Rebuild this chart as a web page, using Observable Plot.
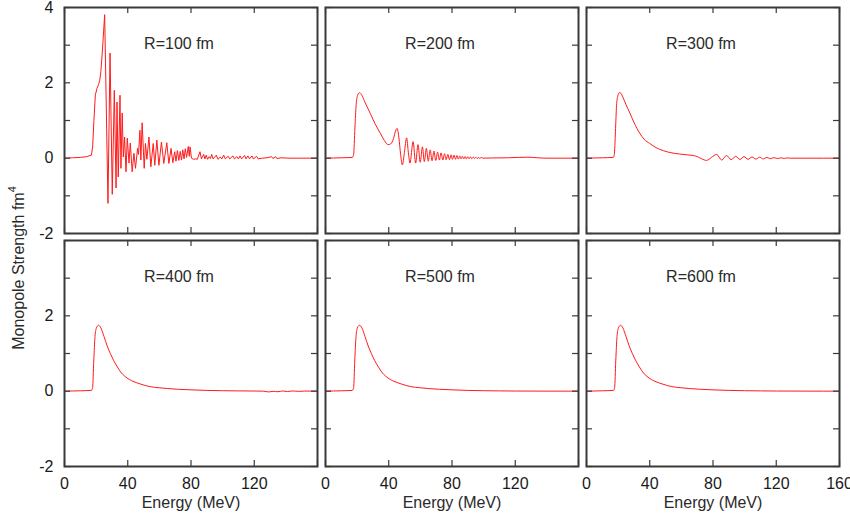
<!DOCTYPE html>
<html><head><meta charset="utf-8">
<script src="https://cdn.jsdelivr.net/npm/d3@7"></script>
<script src="https://cdn.jsdelivr.net/npm/@observablehq/plot@0.6"></script>
<style>
body{margin:0;background:#fff;font-family:"Liberation Sans",Arial,Helvetica,sans-serif;}
#chart{position:relative;width:850px;height:522px;overflow:hidden;background:#fff;}
#chart svg{position:absolute;}
</style></head>
<body><div id="chart"></div>
<script>
// ---- data (Energy MeV, Monopole strength fm^4) ----
const panelLabels = ["R=100 fm","R=200 fm","R=300 fm","R=400 fm","R=500 fm","R=600 fm"];
const xTicks = [0,40,80,120,160];
const yTicks = [-2,-1,0,1,2,3,4];
const yLabelsTop = [-2,0,2,4];
const yLabelsBottom = [-2,0,2];
const xLabelsInner = [0,40,80,120];
const xLabelsLast = [0,40,80,120,160];
const yTitle = "Monopole Strength fm";
const xTitle = "Energy (MeV)";

const r100 = [[0,0],[5,0.01],[10,0.02],[14,0.04],[17,0.08],[17.8,0.3],[18.6,1.0],[19.5,1.67],[20.5,1.85],[21.5,1.95],[22.3,2.07],[23,2.3],[24,2.87],[25.4,3.81],[27.5,-1.2],[28.8,2.79],[30.2,-0.96],[31.5,1.8],[32.6,-0.79],[33.2,1.49],[34,-0.5],[35.1,1.67],[35.7,-0.27],[36.5,1.2],[37.2,0.03],[38,0.56],[38.9,-0.36],[39.7,0.53],[40.8,-0.13],[41.6,0.4],[42.8,-0.36],[43.9,0.13],[44.9,-0.27],[46.2,0.26],[46.8,0.1],[47.7,0.74],[48.3,-0.05],[49.1,0.94],[50.4,-0.27],[51.2,0.39],[52.1,-0.03],[53.4,0.56],[54.6,-0.23],[56.1,0.39],[57.1,-0.19],[58.4,0.48],[59.7,-0.19],[61.3,0.43],[62.8,-0.14],[64.7,0.41],[66,-0.14],[67.4,0.26],[68.5,-0.12],[69.7,0.17],[70.5,-0.08],[71.4,0.2],[72.3,-0.06],[73.2,0.18],[74,-0.05],[74.8,0.22],[75.6,-0.02],[76.4,0.25],[77.2,0.02],[78.3,0.31],[78.9,0.05],[79.4,0.3],[80.3,0.0],[81.5,-0.03],[83,-0.02],[84,-0.03],[85.7,0.17],[86.6,-0.02],[88,0.1],[88.8,-0.02],[89.6,0.08],[90.5,-0.03],[91.5,0.04],[92.3,-0.01],[93.1,0.1],[94,-0.02],[96,0.08],[97,-0.03],[98.5,0.03],[99.5,-0.02],[100.7,0.08],[101.7,-0.02],[103.5,0.05],[104.5,-0.02],[106.5,0.06],[107.5,-0.02],[109,0.04],[110,-0.02],[111,0.06],[112,-0.02],[113.9,0.07],[114.8,-0.02],[116,0.06],[117,-0.02],[118.6,0.06],[119.5,-0.02],[121.5,0.05],[122.5,-0.02],[125,0.0],[128,0.01],[131,0.04],[131.8,-0.01],[133.5,0.04],[134.3,-0.01],[137,0.01],[142,0.0],[150,0.0],[160,0]];

const r200 = [[0,0],[10,0.01],[17,0.02],[17.8,0.1],[18.6,0.8],[19.4,1.42],[20.3,1.67],[21.5,1.74],[23,1.67],[25,1.48],[28.4,1.18],[31.5,0.9],[34.7,0.66],[37.2,0.47],[39.6,0.36],[41.3,0.38],[43,0.52],[44.3,0.72],[45.3,0.79],[46.4,0.55],[47.5,0.1],[48.6,-0.18],[49.9,0.15],[51.3,0.54],[52.4,0.15],[53.4,-0.13],[55.4,0.44],[57,-0.13],[58.5,0.36],[59.9,-0.11],[61.3,0.3],[62.5,-0.09],[63.8,0.26],[65,-0.08],[66.2,0.22],[67.4,-0.07],[68.6,0.19],[69.7,-0.06],[70.9,0.16],[72,-0.05],[73.1,0.14],[74.2,-0.05],[75.3,0.12],[76.3,-0.04],[77.4,0.1],[78.4,-0.04],[79.4,0.09],[80.3,-0.03],[81.3,0.08],[82.2,-0.03],[83.1,0.07],[84,-0.025],[84.9,0.06],[85.7,-0.02],[86.6,0.05],[87.4,-0.02],[88.3,0.045],[89.1,-0.02],[90,0.04],[90.8,-0.015],[91.7,0.035],[92.5,-0.015],[93.4,0.03],[94.2,-0.01],[95.1,0.025],[95.9,-0.01],[96.8,0.02],[97.6,-0.01],[98.5,0.02],[99.5,0],[105,0.005],[115,0.01],[122,0.02],[128,0.025],[134,0.01],[140,0],[160,0]];

const r300 = [[0,0],[10,0.01],[17,0.02],[17.6,0.1],[18.3,0.7],[19,1.4],[19.8,1.65],[20.8,1.74],[21.8,1.72],[23,1.62],[25,1.42],[27.4,1.2],[30,0.95],[33.7,0.66],[36.5,0.5],[40,0.39],[44,0.28],[48.5,0.2],[54,0.14],[59,0.11],[63,0.09],[67.5,0.07],[70.2,0.04],[73,-0.02],[75.9,-0.06],[79,0.02],[82.3,0.1],[85.5,-0.05],[88.6,0.07],[91.5,-0.04],[94.4,0.05],[97,-0.035],[99.6,0.04],[102.2,-0.03],[104.7,0.03],[107.1,-0.025],[109.5,0.025],[111.8,-0.02],[114,0.02],[116.3,-0.015],[118.5,0.015],[120.8,-0.01],[123,0.01],[125,-0.008],[127,0.008],[129,0],[140,0],[160,0]];

const r400 = [[0,0],[10,0.01],[17,0.02],[17.8,0.1],[18.5,0.8],[19.3,1.45],[20.2,1.68],[21.5,1.75],[23,1.68],[25,1.45],[27,1.2],[29,1.0],[31,0.82],[33.5,0.64],[35.5,0.51],[38,0.4],[41,0.31],[44,0.25],[48,0.19],[54,0.12],[60,0.09],[65,0.07],[72,0.05],[80,0.035],[90,0.02],[100,0.012],[110,0.007],[120,0.004],[126,0.0],[129,-0.02],[132,-0.005],[135,-0.015],[138,0.005],[141,-0.01],[144,0.005],[148,-0.005],[152,0.002],[160,0]];

const r500 = [[0,0],[10,0.01],[17,0.02],[17.8,0.1],[18.5,0.8],[19.3,1.45],[20.2,1.68],[21.5,1.75],[23,1.68],[25,1.45],[27,1.2],[29,1.0],[31,0.82],[33.5,0.64],[35.5,0.51],[38,0.4],[41,0.31],[44,0.25],[48,0.19],[54,0.12],[60,0.09],[65,0.07],[72,0.05],[80,0.035],[90,0.02],[100,0.012],[110,0.007],[120,0.004],[140,0.001],[160,0]];

const r600 = [[0,0],[10,0.01],[17,0.02],[17.8,0.1],[18.5,0.8],[19.3,1.45],[20.2,1.68],[21.5,1.75],[23,1.68],[25,1.45],[27,1.2],[29,1.0],[31,0.82],[33.5,0.64],[35.5,0.51],[38,0.4],[41,0.31],[44,0.25],[48,0.19],[54,0.12],[60,0.09],[65,0.07],[72,0.05],[80,0.035],[90,0.02],[100,0.012],[110,0.007],[120,0.004],[140,0.001],[160,0]];

const series = [r100, r200, r300, r400, r500, r600];

// ---- layout ----
const W = 253, H = 226, ML = 45, MR = 22, MT = 12, MB = 52;
const colLeft = [64, 325, 586], rowTop = [7, 240];
const font = '"Liberation Sans", Arial, Helvetica, sans-serif';
const chart = document.getElementById("chart");
const frameColor = "#3a3a3a";
const lineColor = "#ff1a1a";
const fmt = d => String(d);

series.forEach((data, i) => {
  const col = i % 3, row = Math.floor(i / 3);
  const marks = [
    Plot.line(data, {x: d => d[0], y: d => d[1], stroke: lineColor, strokeWidth: 1,
      curve: i === 0 ? "linear" : "monotone-x"}),
    Plot.tickY(yTicks, {y: d => d, insetRight: W - 6, stroke: frameColor, strokeWidth: 1.2}),
    Plot.tickY(yTicks, {y: d => d, insetLeft: W - 6, stroke: frameColor, strokeWidth: 1.2}),
    Plot.tickX(xTicks, {x: d => d, insetBottom: H - 6, stroke: frameColor, strokeWidth: 1.2}),
    Plot.tickX(xTicks, {x: d => d, insetTop: H - 6, stroke: frameColor, strokeWidth: 1.2}),
    Plot.frame({stroke: frameColor, strokeWidth: 2}),
    Plot.text([panelLabels[i]], {text: d => d, frameAnchor: "top", dx: -12, dy: 30,
      fontSize: 16, fill: "#2a2a2a"})
  ];
  if (col === 0) {
    marks.push(Plot.axisY(row === 0 ? yLabelsTop : yLabelsBottom,
      {anchor: "left", tickSize: 0, tickPadding: 11, fontSize: 16, label: null, fill: "#1a1a1a", tickFormat: fmt}));
  }
  if (row === 1) {
    marks.push(Plot.axisX(col === 2 ? xLabelsLast : xLabelsInner,
      {anchor: "bottom", tickSize: 0, tickPadding: 11, fontSize: 16, label: null, fill: "#1a1a1a", tickFormat: fmt}));
    marks.push(Plot.text([xTitle], {text: d => d, frameAnchor: "bottom", dy: 41.5,
      fontSize: 16, fill: "#2a2a2a"}));
  }
  const svg = Plot.plot({
    width: W + ML + MR, height: H + MT + MB,
    marginLeft: ML, marginRight: MR, marginTop: MT, marginBottom: MB,
    style: {background: "transparent", fontFamily: font, fontSize: "16px", overflow: "visible"},
    x: {domain: [0, 160], axis: null},
    y: {domain: [-2, 4], axis: null},
    marks
  });
  svg.style.left = (colLeft[col] - ML) + "px";
  svg.style.top = (rowTop[row] - MT) + "px";
  chart.appendChild(svg);
});

// y-axis title (rotated)
const ys = d3.select(chart).append("svg")
  .attr("width", 40).attr("height", 522)
  .style("left", "0px").style("top", "0px");
const t = ys.append("text")
  .attr("transform", "translate(20,268) rotate(-90)")
  .attr("text-anchor", "middle")
  .attr("dominant-baseline", "middle")
  .attr("font-family", font).attr("font-size", 16).attr("fill", "#2a2a2a");
t.append("tspan").text(yTitle);
t.append("tspan").attr("font-size", 11).attr("dy", -7).text("4");
</script>
</body></html>
